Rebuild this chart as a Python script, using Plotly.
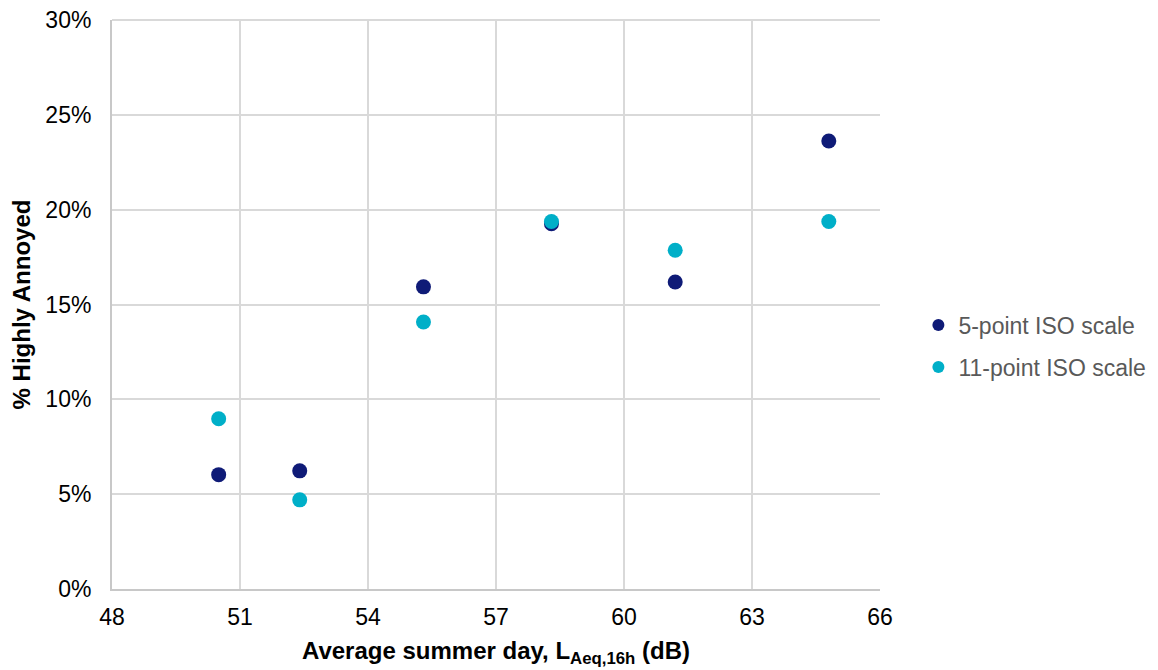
import plotly.graph_objects as go

noise_db = [50.5, 52.4, 55.3, 58.3, 61.2, 64.8]
ha_5pt = [6.03, 6.23, 15.93, 19.26, 16.19, 23.62]
ha_11pt = [8.98, 4.7, 14.08, 19.38, 17.86, 19.38]
series_names = ["5-point ISO scale", "11-point ISO scale"]
x_ticks = [48, 51, 54, 57, 60, 63, 66]
y_ticks = [0, 5, 10, 15, 20, 25, 30]
y_tick_labels = [f"{v}%" for v in y_ticks]

fig = go.Figure()
fig.add_trace(go.Scatter(x=noise_db, y=ha_5pt, mode="markers", name=series_names[0],
                         legendgroup="a",
                         marker=dict(size=15, color="#0F1B77")))
fig.add_trace(go.Scatter(x=noise_db, y=ha_11pt, mode="markers", name=series_names[1],
                         legendgroup="b",
                         marker=dict(size=15, color="#00AFC8")))

fig.update_layout(
    template="none",
    width=1158, height=670,
    margin=dict(l=104, r=286, t=12, b=89, autoexpand=False),
    paper_bgcolor="white", plot_bgcolor="white",
    font=dict(family="Arial, Liberation Sans, sans-serif", size=23, color="#000000"),
    legend=dict(x=1.05, xanchor="left", y=0.427, yanchor="middle",
                font=dict(size=23, color="#595959"), itemsizing="constant",
                tracegroupgap=9, bgcolor="rgba(0,0,0,0)"),
    xaxis=dict(range=[48, 66], tickvals=x_ticks, ticktext=[str(v) for v in x_ticks],
               showgrid=True, gridcolor="#D9D9D9", gridwidth=2,
               showline=True, linecolor="#C8C8C8", linewidth=2, mirror=False,
               zeroline=False, ticks="", ticklen=0, automargin=False,
               ticklabelstandoff=6, ticklabeloverflow="allow",
               tickfont=dict(size=23, color="#000000"),
               title=dict(text="<b>Average summer day, L<sub>Aeq,16h</sub> (dB)</b>",
                          font=dict(size=24, color="#000000"), standoff=14)),
    yaxis=dict(range=[0, 30], tickvals=y_ticks, ticktext=y_tick_labels,
               showgrid=True, gridcolor="#D9D9D9", gridwidth=2,
               showline=True, linecolor="#C8C8C8", linewidth=2,
               zeroline=False, ticks="", ticklen=0, automargin=False,
               ticklabelstandoff=14, ticklabeloverflow="allow",
               tickfont=dict(size=23, color="#000000"),
               title=dict(text="<b>% Highly Annoyed</b>",
                          font=dict(size=24, color="#000000"), standoff=10)),
    shapes=[dict(type="line", xref="paper", yref="paper", x0=0, x1=1, y0=1, y1=1,
                 line=dict(color="#D9D9D9", width=2), layer="below")],
)

fig.write_html("out.html")
